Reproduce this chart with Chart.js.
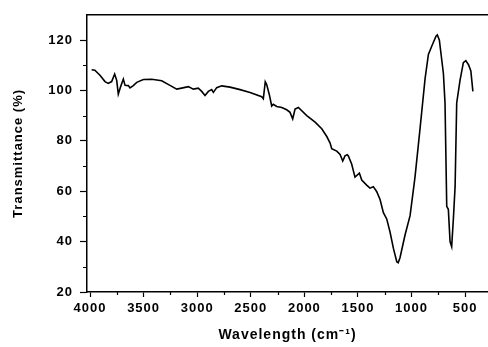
<!DOCTYPE html>
<html>
<head>
<meta charset="utf-8">
<script src="https://cdn.jsdelivr.net/npm/chart.js@4"></script>
<style>
  html, body { margin: 0; padding: 0; background: #fff; }
  #wrap { width: 488px; height: 347px; }
</style>
</head>
<body>
<div id="wrap"><canvas id="ftir" width="488" height="347"></canvas></div>
<script>
// FTIR spectrum: wavenumber (cm-1) vs transmittance (%)
const wavenumbers = [
  3985, 3955, 3907, 3860, 3830, 3798, 3770, 3751, 3736, 3714, 3689, 3673,
  3642, 3627, 3596, 3564, 3502, 3424, 3331, 3254, 3191, 3145, 3083, 3036,
  2990, 2958, 2927, 2896, 2865, 2849, 2818, 2771, 2694, 2600, 2507, 2398,
  2383, 2365, 2351, 2327, 2305, 2290, 2258, 2211, 2165, 2134, 2109, 2087,
  2056, 1978, 1900, 1838, 1791, 1760, 1745, 1698, 1667, 1642, 1621, 1600,
  1590, 1559, 1528, 1487, 1465, 1419, 1388, 1357, 1326, 1294, 1263, 1232,
  1201, 1170, 1138, 1125, 1108, 1061, 1014, 968, 921, 874, 843, 812,
  772, 760, 741, 703, 688, 672, 657, 641, 626, 610, 594, 579,
  548, 517, 494, 469, 447, 428
];
const transmittance = [
  108.2, 108.0, 106.0, 103.5, 102.8, 103.5, 106.5, 104.0, 98.5, 101.5, 104.5, 102.0,
  101.9, 101.0, 101.9, 103.2, 104.3, 104.4, 103.8, 102.0, 100.5, 100.9, 101.5, 100.5,
  100.9, 99.6, 98.0, 99.6, 100.3, 99.2, 101.1, 101.8, 101.3, 100.3, 99.2, 97.5,
  96.7, 103.4, 102.2, 98.3, 93.8, 94.5, 93.6, 93.2, 92.3, 91.3, 88.7, 92.6,
  93.2, 90.0, 87.4, 84.8, 81.7, 79.1, 76.9, 75.9, 74.6, 72.0, 74.0, 74.5,
  74.0, 70.8, 65.6, 67.2, 64.4, 62.4, 61.2, 61.8, 59.9, 56.7, 51.5, 49.0,
  43.8, 37.4, 32.0, 31.6, 33.6, 42.6, 50.3, 65.6, 84.8, 104.7, 114.3, 117.5,
  121.5, 122.0, 120.0, 106.7, 95.0, 54.0, 52.8, 40.0, 38.0, 49.0, 61.8, 95.0,
  104.0, 111.0, 111.8, 110.2, 107.7, 99.6
];

// Axis extents and tick positions
const xRange = [287, 4028];
const yRange = [20, 130];
const xMajorTicks = [4000, 3500, 3000, 2500, 2000, 1500, 1000, 500];
const yMajorTicks = [20, 40, 60, 80, 100, 120];
const xMinorTicks = [3750, 3250, 2750, 2250, 1750, 1250, 750];
const yMinorTicks = [30, 50, 70, 90, 110];

const points = wavenumbers.map((w, i) => ({ x: w, y: transmittance[i] }));

const FONT = '"Liberation Sans", Arial, sans-serif';

// Minor tick marks and the top frame line
const frameAndMinorTicks = {
  id: 'frameAndMinorTicks',
  beforeLayout(chart) { chart.ctx.letterSpacing = '1px'; },
  afterDraw(chart) {
    const { ctx, chartArea, scales } = chart;
    ctx.save();
    ctx.strokeStyle = '#000';
    ctx.lineWidth = 1.5;
    ctx.beginPath();
    ctx.moveTo(chartArea.left - 1, chartArea.top);
    ctx.lineTo(chartArea.right + 2, chartArea.top);
    ctx.stroke();
    ctx.lineWidth = 1.2;
    ctx.beginPath();
    yMinorTicks.forEach(v => {
      const py = Math.round(scales.y.getPixelForValue(v)) + 0.5;
      ctx.moveTo(chartArea.left - 4, py);
      ctx.lineTo(chartArea.left, py);
    });
    xMinorTicks.forEach(v => {
      const px = Math.round(scales.x.getPixelForValue(v)) + 0.5;
      ctx.moveTo(px, chartArea.bottom);
      ctx.lineTo(px, chartArea.bottom + 3);
    });
    ctx.stroke();
    ctx.restore();
  }
};

new Chart(document.getElementById('ftir'), {
  type: 'line',
  data: {
    datasets: [{
      data: points,
      borderColor: '#000',
      borderWidth: 1.6,
      pointRadius: 0,
      tension: 0,
      fill: false
    }]
  },
  options: {
    responsive: false,
    animation: false,
    layout: { padding: { top: 7, right: 0, left: 0, bottom: 0 } },
    plugins: { legend: { display: false }, tooltip: { enabled: false } },
    scales: {
      x: {
        type: 'linear',
        reverse: true,
        min: xRange[0],
        max: xRange[1],
        afterBuildTicks(s) { s.ticks = xMajorTicks.map(v => ({ value: v })); },
        afterFit(s) { s.height = 55; },
        border: { display: true, color: '#000', width: 1.5 },
        grid: { display: true, drawOnChartArea: false, drawTicks: true, tickLength: 5, tickColor: '#000', tickWidth: 1.2 },
        ticks: {
          autoSkip: false,
          maxRotation: 0,
          padding: 4,
          color: '#000',
          callback: v => String(v),
          font: { family: FONT, size: 13, weight: 'bold' }
        },
        title: {
          display: true,
          text: 'Wavelength (cm\u207B\u00B9)',
          color: '#000',
          font: { family: FONT, size: 14, weight: 'bold' },
          padding: { top: 0, bottom: 3 }
        }
      },
      y: {
        type: 'linear',
        min: yRange[0],
        max: yRange[1],
        afterBuildTicks(s) { s.ticks = yMajorTicks.map(v => ({ value: v })); },
        afterFit(s) { s.width = 87; },
        border: { display: true, color: '#000', width: 1.5 },
        grid: { display: true, drawOnChartArea: false, drawTicks: true, tickLength: 7, tickColor: '#000', tickWidth: 1.2 },
        ticks: {
          padding: 7,
          color: '#000',
          callback: v => String(v),
          font: { family: FONT, size: 13, weight: 'bold' }
        },
        title: {
          display: true,
          text: 'Transmittance (%)',
          color: '#000',
          font: { family: FONT, size: 13, weight: 'bold' },
          padding: { top: 11, bottom: 0 }
        }
      }
    }
  },
  plugins: [frameAndMinorTicks]
});
</script>
</body>
</html>
